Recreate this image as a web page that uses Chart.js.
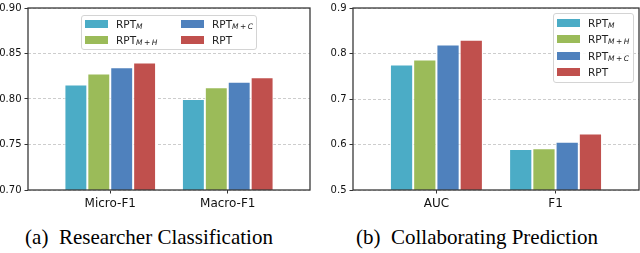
<!DOCTYPE html>
<html>
<head>
<meta charset="utf-8">
<script src="https://cdn.jsdelivr.net/npm/chart.js@4.4.1/dist/chart.umd.min.js"></script>
<style>
  body { margin: 0; width: 640px; height: 253px; background: #fff; overflow: hidden; position: relative; font-family: "DejaVu Sans", sans-serif; }
  .panel { position: absolute; top: 0; width: 320px; height: 253px; }
  .panel canvas { position: absolute; left: 0; top: 0; }
  .caption { position: absolute; top: 227px; transform: translateX(-50%); font-family: "Liberation Serif", "Times New Roman", serif; font-size: 21px; line-height: 21px; white-space: pre; color: #000; }
  .legend { position: absolute; background: rgba(255,255,255,0.85); border: 1px solid #d4d4d4; border-radius: 3px; font-size: 10.5px; color: #222; display: grid; box-sizing: border-box; }
  .legend .item { display: flex; align-items: center; height: 16px; white-space: nowrap; }
  .legend .patch { width: 23px; height: 8px; margin-right: 8px; flex: none; }
  .legend sub { font-size: 7.5px; vertical-align: baseline; position: relative; top: 2.5px; }
</style>
</head>
<body>
<div class="panel" style="left:0"><canvas id="chartA" width="320" height="215"></canvas></div>
<div class="panel" style="left:320px"><canvas id="chartB" width="320" height="215"></canvas></div>
<div class="caption" style="left:149px">(a)  Researcher Classification</div>
<div class="caption" style="left:477px">(b)  Collaborating Prediction</div>
<script>
const categoriesA = ['Micro-F1', 'Macro-F1'];
const categoriesB = ['AUC', 'F1'];

const seriesLabels = ['RPT', 'RPT', 'RPT', 'RPT'];
const seriesSubs = ['M', 'M+H', 'M+C', ''];
const seriesColors = ['#4bacc6', '#9bbb59', '#4f81bd', '#c0504d'];

// (a) researcher classification
const rptM_A = [0.816, 0.800];
const rptMH_A = [0.828, 0.813];
const rptMC_A = [0.835, 0.819];
const rpt_A = [0.840, 0.824];

// (b) collaborating prediction
const rptM_B = [0.776, 0.590];
const rptMH_B = [0.787, 0.592];
const rptMC_B = [0.820, 0.606];
const rpt_B = [0.830, 0.624];

const yTicksA = [0.70, 0.75, 0.80, 0.85, 0.90];
const yTicksB = [0.5, 0.6, 0.7, 0.8, 0.9];

const framePlugin = {
  id: 'frame',
  afterDraw(chart) {
    const { ctx, chartArea: a } = chart;
    ctx.save();
    ctx.strokeStyle = '#3a3a3a';
    ctx.lineWidth = 1.3;
    ctx.strokeRect(a.left, a.top, a.right - a.left, a.bottom - a.top);
    ctx.restore();
  }
};

function subHtml(sub) {
  if (!sub) return '';
  const parts = sub.split('+').map(p => `<i>${p}</i>`);
  return `<sub>${parts.join('\u2009+\u2009')}</sub>`;
}

function makeChart(id, opts) {
  const datasets = opts.series.map((values, i) => ({
    label: seriesLabels[i],
    sub: seriesSubs[i],
    data: values.map((v, j) => ({ x: j, y: v })),
    backgroundColor: seriesColors[i],
    borderColor: '#ffffff',
    borderWidth: 1,
    categoryPercentage: 0.78,
    barPercentage: 1
  }));

  const chart = new Chart(document.getElementById(id), {
    type: 'bar',
    data: { datasets },
    plugins: [framePlugin],
    options: {
      responsive: false,
      animation: false,
      layout: { padding: opts.padding },
      plugins: { legend: { display: false }, tooltip: { enabled: false } },
      scales: {
        x: {
          type: 'linear',
          offset: false,
          min: -0.7,
          max: 1.7,
          afterBuildTicks: s => { s.ticks = opts.categories.map((c, i) => ({ value: i })); },
          afterFit: s => { s.height = 25; },
          ticks: {
            callback: v => opts.categories[v],
            color: '#111',
            font: { family: 'DejaVu Sans', size: 12 },
            padding: 3,
            maxRotation: 0
          },
          grid: { offset: false, drawOnChartArea: false, tickLength: 3.5, tickColor: '#333', tickWidth: 1 },
          border: { display: false }
        },
        y: {
          min: opts.yTicks[0],
          max: opts.yTicks[opts.yTicks.length - 1],
          z: 1,
          afterBuildTicks: s => { s.ticks = opts.yTicks.map(v => ({ value: v })); },
          afterFit: s => { s.width = opts.yWidth; },
          ticks: {
            callback: v => v.toFixed(opts.decimals),
            color: '#111',
            font: { family: 'DejaVu Sans', size: 10, lineHeight: 1 },
            padding: 3
          },
          grid: { color: 'rgba(200,200,200,0.9)', lineWidth: 1, tickLength: 3.5, tickColor: '#333', tickWidth: 1, tickBorderDash: [] },
          border: { display: false, dash: [3, 2] }
        }
      }
    }
  });
  return chart;
}

function buildLegend(chart, panel, place) {
  const el = document.createElement('div');
  el.className = 'legend';
  el.innerHTML = chart.data.datasets.map(ds => `
    <div class="item"><span class="patch" style="background:${ds.backgroundColor}"></span>${ds.label}${subHtml(ds.sub)}</div>
  `).join('');
  panel.appendChild(el);
  place(el, chart.chartArea);
}

const chartA = makeChart('chartA', {
  categories: categoriesA,
  series: [rptM_A, rptMH_A, rptMC_A, rpt_A],
  yTicks: yTicksA,
  decimals: 2,
  yWidth: 28,
  padding: { top: 7, right: 10, left: 0, bottom: 0 }
});

const chartB = makeChart('chartB', {
  categories: categoriesB,
  series: [rptM_B, rptMH_B, rptMC_B, rpt_B],
  yTicks: yTicksB,
  decimals: 1,
  yWidth: 33,
  padding: { top: 5, right: 1, left: 0, bottom: 0 }
});

buildLegend(chartA, document.querySelectorAll('.panel')[0], (el, a) => {
  el.style.gridTemplateRows = '16px 16px';
  el.style.gridAutoFlow = 'column';
  el.style.gridTemplateColumns = '96px auto';
  el.style.padding = '0px 3px 1px 3px';
  el.style.top = (a.top + 7) + 'px';
  el.style.left = ((a.left + a.right) / 2 - el.offsetWidth / 2) + 'px';
});

buildLegend(chartB, document.querySelectorAll('.panel')[1], (el, a) => {
  el.style.gridTemplateRows = 'repeat(4, 16.4px)';
  el.style.padding = '1px 4px 1px 3px';
  el.style.top = (a.top + 5) + 'px';
  el.style.left = (a.right - 5 - el.offsetWidth) + 'px';
});
</script>
</body>
</html>
